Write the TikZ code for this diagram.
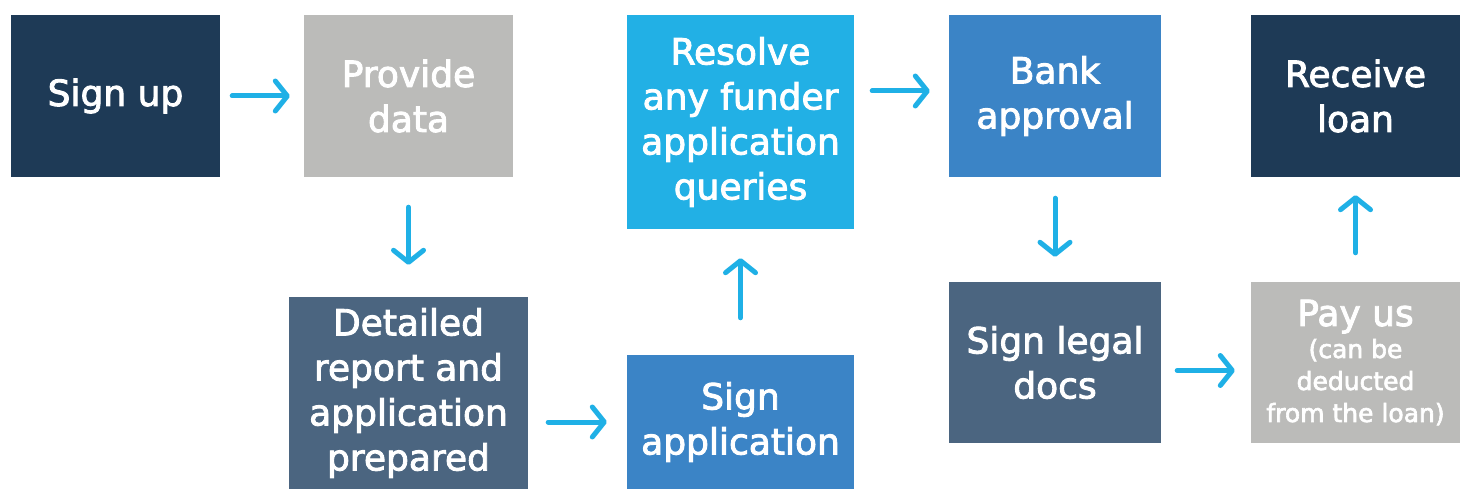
\documentclass[tikz,border=0pt]{standalone}
\usepackage{fontspec}
\setmainfont{DejaVu Sans}
\newfontfamily\boxfont{DejaVu Sans}[FakeBold=2.5]
\usetikzlibrary{arrows.meta}
\definecolor{navy}{HTML}{1E3A56}
\definecolor{stone}{HTML}{BBBBB9}
\definecolor{slate}{HTML}{4B6580}
\definecolor{midblue}{HTML}{3B84C6}
\definecolor{skyblue}{HTML}{22B0E5}
\definecolor{arrowblue}{HTML}{1FB0E6}

\begin{document}
\begin{tikzpicture}[x=1pt, y=-1pt,
	B/.style n args={3}{fill=#1, text=white, minimum width=#2pt, minimum height=#3pt, inner sep=0pt, align=center, font=\boxfont\fontsize{36}{45}\selectfont},
	A/.style={line width=5pt, draw=arrowblue, line cap=round, -{Straight Barb[length=12pt, width=30pt, line cap=round, line join=round]}}]
		\useasboundingbox (0,0) rectangle (1467,489);
		
		% top row
		\node[B={navy}{209}{162}] (signup) at (115.5,96) {Sign up};
		\node[B={stone}{209}{162}] (data) at (408.5,96) {Provide\\data};
		\node[B={skyblue}{227}{214}] (resolve) at (740.5,122) {Resolve\\any funder\\application\\queries};
		\node[B={midblue}{212}{162}] (bank) at (1055,96) {Bank\\approval};
		\node[B={navy}{209}{162}] (receive) at (1355.5,96) {Receive\\loan};
		
		% bottom row
		\node[B={slate}{239}{192}] (report) at (408.5,393) {Detailed\\report and\\application\\prepared};
		\node[B={midblue}{227}{134}] (signapp) at (740.5,422) {Sign\\application};
		\node[B={slate}{212}{161}] (legal) at (1055,362.5) {Sign legal\\docs};
		\node[B={stone}{209}{161}, font=\boxfont\fontsize{25}{32}\selectfont] (pay) at (1355.5,362.5) {{\fontsize{36}{45}\selectfont Pay us}\\(can be\\deducted\\from the loan)};
		
		% arrows
		\draw[A, shorten <=12pt, shorten >=14pt] (signup.east) -- (data.west);
		\draw[A, shorten <=30pt, shorten >=32pt] (data.south) -- (report.north);
		\draw[A, shorten <=20pt, shorten >=20pt] (report.east |- signapp.west) -- (signapp.west);
		\draw[A, shorten <=37pt, shorten >=29pt] (signapp.north) -- (resolve.south);
		\draw[A, shorten <=18pt, shorten >=19pt] ([yshift=5pt]resolve.east |- bank.west) -- ([yshift=5pt]bank.west);
		\draw[A, shorten <=21pt, shorten >=25pt] (bank.south) -- (legal.north);
		\draw[A, shorten <=16pt, shorten >=16pt] ([yshift=-8pt]legal.east) -- ([yshift=-8pt]pay.west);
		\draw[A, shorten <=29pt, shorten >=18pt] (pay.north) -- (receive.south);
		
\end{tikzpicture}
\end{document}
